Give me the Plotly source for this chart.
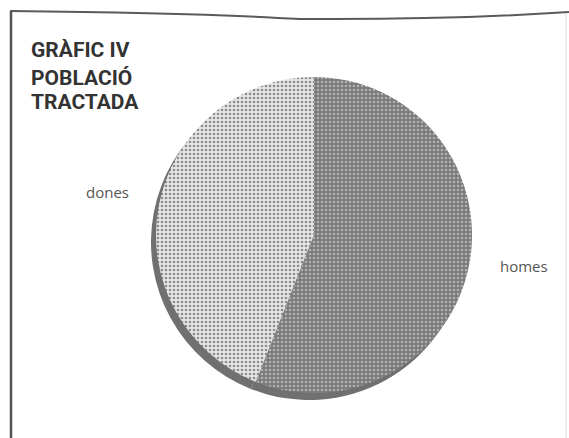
import plotly.graph_objects as go

# data
categories = ["homes", "dones"]
values = [56, 44]
title_lines = ["GRÀFIC IV", "POBLACIÓ", "TRACTADA"]

W, H = 569, 438

def px_x(x):
    return x / W

def px_y(y):
    return 1 - y / H

cx, cy, r = 314, 235, 158
sdx, sdy = -5, 7

fig = go.Figure()

# shadow pie
fig.add_trace(go.Pie(
    labels=categories, values=values, sort=False, direction="clockwise", rotation=0,
    textinfo="none", hoverinfo="skip", showlegend=False,
    marker=dict(colors=["#707070", "#707070"], line=dict(width=0)),
    domain=dict(x=[px_x(cx + sdx - r), px_x(cx + sdx + r)], y=[px_y(cy + sdy + r), px_y(cy + sdy - r)]),
))

# main pie
fig.add_trace(go.Pie(
    labels=categories, values=values, sort=False, direction="clockwise", rotation=0,
    textinfo="none", showlegend=False,
    marker=dict(
        colors=["#7e7e7e", "#e2e2e2"],
        line=dict(width=0),
        pattern=dict(shape=[".", "."], fgcolor=["#b0b0b0", "#8c8c8c"],
                     bgcolor=["#7a7a7a", "#e6e6e6"], size=4, solidity=0.35),
    ),
    domain=dict(x=[px_x(cx - r), px_x(cx + r)], y=[px_y(cy + r), px_y(cy - r)]),
))

title_y = [50, 78, 102]
annotations = []
for line, ty in zip(title_lines, title_y):
    annotations.append(dict(
        text=f"<b>{line}</b>", x=px_x(29), y=px_y(ty), xref="paper", yref="paper",
        xanchor="left", yanchor="middle", align="left", showarrow=False,
        font=dict(family="Roboto, sans-serif", size=21, color="#333333")))

annotations += [
    dict(text=categories[1], x=px_x(107), y=px_y(192), xref="paper", yref="paper",
         xanchor="center", yanchor="middle", showarrow=False,
         font=dict(family="Open Sans, sans-serif", size=15, color="#555555")),
    dict(text=categories[0], x=px_x(524), y=px_y(266), xref="paper", yref="paper",
         xanchor="center", yanchor="middle", showarrow=False,
         font=dict(family="Open Sans, sans-serif", size=15, color="#555555")),
]

shapes = [
    dict(type="line", xref="paper", yref="paper", x0=px_x(11), x1=px_x(11), y0=px_y(11), y1=px_y(438),
         line=dict(color="#555555", width=2.5)),
    dict(type="path", xref="paper", yref="paper",
         path=f"M {px_x(10)} {px_y(11)} Q {px_x(200)} {px_y(13)} {px_x(300)} {px_y(19)} Q {px_x(450)} {px_y(20)} {px_x(569)} {px_y(12)}",
         line=dict(color="#5a5a5a", width=2)),
    dict(type="line", xref="paper", yref="paper", x0=px_x(566), x1=px_x(566), y0=px_y(14), y1=px_y(438),
         line=dict(color="#dddddd", width=1)),
]

fig.update_layout(
    width=W, height=H, margin=dict(l=0, r=0, t=0, b=0),
    paper_bgcolor="white", plot_bgcolor="white",
    annotations=annotations, shapes=shapes,
)

fig.write_html("out.html")
